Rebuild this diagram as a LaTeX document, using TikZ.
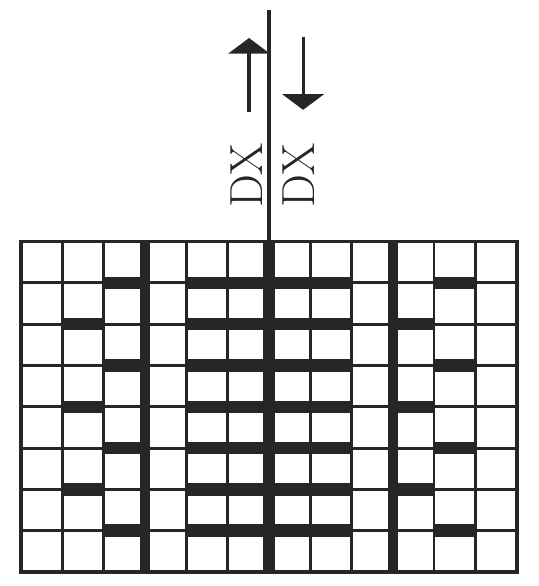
\documentclass[tikz,border=0pt]{standalone}
\usepackage{tikz}
\usetikzlibrary{arrows.meta}

\begin{document}
\begin{tikzpicture}[line width=2pt, black!85,
        gridline/.style={line width=2pt},
        heavy/.style={line width=7pt},
        bar/.style={line width=8.5pt, line cap=butt},
        motion/.style={line width=2.2pt, -{Triangle[width=1.0cm, length=0.38cm]}},
        label/.style={rotate=90, font=\fontsize{32}{32}\selectfont, inner sep=0pt}]
    \useasboundingbox (-0.51,-0.34) rectangle (12.52,13.85);
    % grid of 12 x 8 squares
    \draw[gridline] (0,0) grid (12,8);
    \draw[line width=2.6pt] (0,0) rectangle (12,8);
    \draw[heavy] (3,0) -- (3,8);
    \draw[heavy] (9,0) -- (9,8);
    % floats
    \foreach \y in {1,...,7} {
        \draw[bar] (4,\y) -- (8,\y);
    }
    \foreach \y in {1,3,5,7} {
        \draw[bar] (2,\y) -- (3,\y);
        \draw[bar] (10,\y) -- (11,\y);
    }
    \foreach \y in {2,4,6} {
        \draw[bar] (1,\y) -- (2,\y);
        \draw[bar] (9,\y) -- (10,\y);
    }
    % centre line
    \draw[line width=8pt] (6,0) -- (6,8);
    \coordinate (top) at (6,13.61);
    \draw[line width=2.5pt] (6,8) -- (top);
    % direction marks
    \coordinate (upfrom) at (5.52,11.14);
    \coordinate (upto) at (5.52,12.93);
    \coordinate (downfrom) at (6.83,12.95);
    \coordinate (downto) at (6.83,11.19);
    \draw[motion] (upfrom) -- (upto);
    \draw[motion] (downfrom) -- (downto);
    \node[label] (dxleft) at (5.47,9.61) {DX};
    \node[label] (dxright) at (6.71,9.61) {DX};
\end{tikzpicture}
\end{document}
